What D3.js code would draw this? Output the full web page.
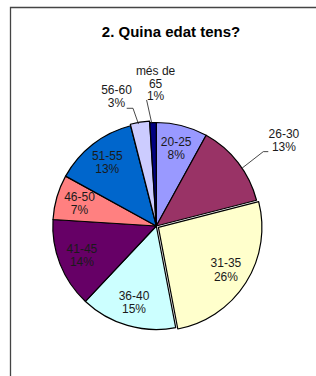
<!DOCTYPE html>
<html>
<head>
<meta charset="utf-8">
<script src="https://cdn.jsdelivr.net/npm/d3@7"></script>
<style>
  html, body { margin: 0; padding: 0; background: #fff; }
  svg { display: block; }
</style>
</head>
<body>
<script>
const categories = ["20-25", "26-30", "31-35", "36-40", "41-45", "46-50", "51-55", "56-60", "més de 65"];
const labelLines = [["20-25"], ["26-30"], ["31-35"], ["36-40"], ["41-45"], ["46-50"], ["51-55"], ["56-60"], ["més de", "65"]];
const values = [8, 13, 26, 15, 14, 7, 13, 3, 1];
const colors = ["#9999FF", "#993366", "#FFFFCC", "#CCFFFF", "#660066", "#FF8080", "#0066CC", "#CCCCFF", "#000080"];
const title = "2. Quina edat tens?";

const W = 316, H = 376;
const cx = 156.3, cy = 226, R = 103.5;

const svg = d3.select("body").append("svg").attr("width", W).attr("height", H);

// frame
svg.append("path")
  .attr("d", `M10.5,${H} V7.5 H${W}`)
  .attr("fill", "none").attr("stroke", "#444").attr("stroke-width", 1.3);

svg.append("text")
  .attr("x", 171).attr("y", 37)
  .attr("text-anchor", "middle")
  .attr("font-family", "Liberation Sans, Arial, sans-serif")
  .attr("font-weight", "bold").attr("font-size", 15)
  .attr("fill", "#000")
  .text(title);

const pie = d3.pie().sort(null).value(d => d)(values);
const arc = d3.arc().innerRadius(0).outerRadius(R);
const explode = { 2: 2.5, 7: 1.5 };

const g = svg.append("g").attr("transform", `translate(${cx},${cy})`);

function mid(d) { return (d.startAngle + d.endAngle) / 2; }
function polar(a, r) { return [r * Math.sin(a), -r * Math.cos(a)]; }

g.selectAll("path.slice").data(pie).enter().append("path")
  .attr("class", "slice")
  .attr("d", arc)
  .attr("transform", (d, i) => {
    const e = explode[i] || 0;
    const p = polar(mid(d), e);
    return `translate(${p[0]},${p[1]})`;
  })
  .attr("fill", (d, i) => colors[i])
  .attr("stroke", "#000").attr("stroke-width", 1.2)
  .attr("stroke-linejoin", "round");

const fontFam = "Liberation Sans, Arial, sans-serif";
const fs = 12, lh = 13.4;

// inside labels
const inside = [0, 2, 3, 4, 5, 6];
const labelR = 80;
inside.forEach(i => {
  const d = pie[i];
  const e = explode[i] || 0;
  const p = polar(mid(d), labelR + e);
  const lines = labelLines[i].concat([values[i] + "%"]);
  const b1 = p[1] - 2.75;
  const t = g.append("text")
    .attr("text-anchor", "middle")
    .attr("font-family", fontFam).attr("font-size", fs)
    .attr("fill", "#1a1a1a");
  lines.forEach((ln, k) => {
    t.append("tspan").attr("x", p[0]).attr("y", b1 + k * lh).text(ln);
  });
});

// outside labels with leader lines (polar placements, degrees clockwise from 12 o'clock)
const outside = [
  { i: 1, edge: 56, elbow: [55.2, 130.3], hook: 5, text: [56.2, 153.6], lh: 13.2 },
  { i: 7, edge: -9.9, elbow: [-11.2, 120], hook: -6.3, text: [-17.05, 135.7], lh: 12.5 },
  { i: 8, edge: -2.6, elbow: [-4.4, 126.4], hook: 0, text: [-0.3, 142.2], lh: 12.6 }
];
const rad = Math.PI / 180;
outside.forEach(o => {
  const i = o.i;
  const pe = polar(o.edge * rad, R);
  const pb = polar(o.elbow[0] * rad, o.elbow[1]);
  const pts = [pe, pb];
  if (o.hook) pts.push([pb[0] + o.hook, pb[1]]);
  g.append("path")
    .attr("d", d3.line()(pts))
    .attr("fill", "none").attr("stroke", "#333").attr("stroke-width", 0.9);
  const lines = labelLines[i].concat([values[i] + "%"]);
  const pt = polar(o.text[0] * rad, o.text[1]);
  const n = lines.length;
  const b1 = pt[1] - ((n - 1) * o.lh) / 2 + 4;
  const t = g.append("text")
    .attr("text-anchor", "middle")
    .attr("font-family", fontFam).attr("font-size", fs)
    .attr("fill", "#1a1a1a");
  lines.forEach((ln, k) => {
    t.append("tspan").attr("x", pt[0]).attr("y", b1 + k * o.lh).text(ln);
  });
});
</script>
</body>
</html>
